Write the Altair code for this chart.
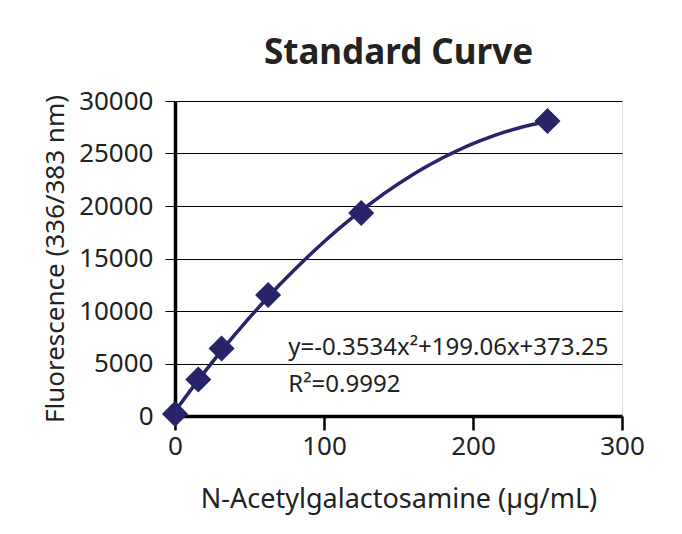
import altair as alt
import pandas as pd

# Data
concentration = [0, 15.625, 31.25, 62.5, 125, 250]
fluorescence = [200, 3470, 6430, 11530, 19330, 28090]

equation_text = "y=-0.3534x²+199.06x+373.25"
r2_text = "R²=0.9992"

x_ticks = [0, 100, 200, 300]
y_ticks = [0, 5000, 10000, 15000, 20000, 25000, 30000]

df = pd.DataFrame({"conc": concentration, "fluor": fluorescence})
ann = pd.DataFrame({"conc": [76, 76], "fluor": [6450, 2920], "label": [equation_text, r2_text]})

NAVY = "#28246A"
FONT = "Noto Sans"

x_enc = alt.X(
    "conc:Q",
    scale=alt.Scale(domain=[0, 300], nice=False),
    axis=alt.Axis(
        values=x_ticks,
        format="d",
        labelFlush=False,
        title="N-Acetylgalactosamine (µg/mL)",
        grid=False,
        domainColor="black",
        domainWidth=3.5,
        tickColor="black",
        tickWidth=2.5,
        tickSize=14,
        labelFontSize=26,
        labelPadding=3,
        labelColor="#222222",
        labelFont=FONT,
        titleFont=FONT,
        titleFontSize=27,
        titleFontWeight="normal",
        titleColor="#222222",
        titlePadding=27,
    ),
)
y_enc = alt.Y(
    "fluor:Q",
    scale=alt.Scale(domain=[0, 30000], nice=False),
    axis=alt.Axis(
        values=y_ticks,
        format="d",
        labelFlush=False,
        title="Fluorescence  (336/383 nm)",
        grid=True,
        gridColor="black",
        gridWidth=1,
        gridOpacity=1,
        domainColor="black",
        domainWidth=3.5,
        tickColor="black",
        tickWidth=1,
        tickSize=10,
        labelFontSize=26,
        labelPadding=12,
        labelColor="#222222",
        labelFont=FONT,
        titleFont=FONT,
        titleFontSize=26,
        titleFontWeight="normal",
        titleColor="#222222",
        titlePadding=10,
    ),
)

base = alt.Chart(df)

curve = base.transform_regression(
    "conc", "fluor", method="poly", order=2, extent=[0, 250]
).mark_line(color=NAVY, strokeWidth=3.5).encode(x=x_enc, y=y_enc)

points = base.mark_point(
    shape="diamond", filled=True, size=680, color=NAVY, opacity=1
).encode(x="conc:Q", y="fluor:Q")

text = alt.Chart(ann).mark_text(
    align="left", baseline="middle", fontSize=24, font=FONT, color="#222222"
).encode(x="conc:Q", y="fluor:Q", text="label:N")

chart = alt.layer(curve, points, text).properties(
    width=447,
    height=315,
    autosize=alt.AutoSizeParams(type="none"),
    padding={"left": 175, "top": 101, "right": 60, "bottom": 118},
    title=alt.TitleParams(
        "Standard Curve",
        fontSize=35,
        font=FONT,
        fontWeight="bold",
        color="#222222",
        anchor="middle",
        offset=17,
    ),
).configure_view(stroke=None).configure(background="white")

chart.save("out.html", embed_options={"renderer": "svg", "actions": False})
